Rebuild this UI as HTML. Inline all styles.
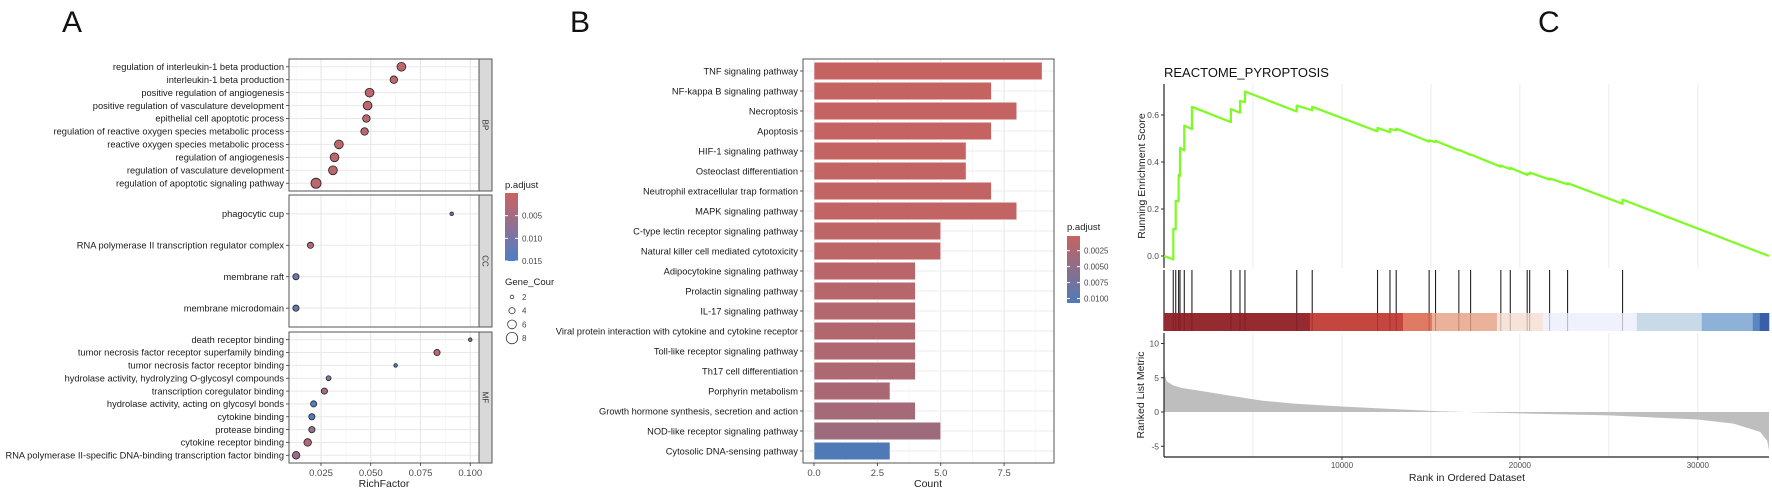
<!DOCTYPE html>
<html><head><meta charset="utf-8">
<style>
html,body{margin:0;padding:0;background:#fff;}
svg{display:block;font-family:"Liberation Sans",Arial,sans-serif;}
</style></head>
<body>
<svg id="chart" width="1772" height="488" viewBox="0 0 1772 488" xmlns="http://www.w3.org/2000/svg"></svg>
<script>
// ---------- Panel A data ----------
const bpTerms=["regulation of interleukin-1 beta production","interleukin-1 beta production","positive regulation of angiogenesis","positive regulation of vasculature development","epithelial cell apoptotic process","regulation of reactive oxygen species metabolic process","reactive oxygen species metabolic process","regulation of angiogenesis","regulation of vasculature development","regulation of apoptotic signaling pathway"];
const bpRich=[0.0654,0.0616,0.0494,0.0484,0.0478,0.0469,0.034,0.0318,0.031,0.0225];
const bpCount=[6,5,6,6,5,5,6,6,6,7];
const bpP=[0.002,0.002,0.002,0.002,0.002,0.002,0.002,0.002,0.002,0.002];
const ccTerms=["phagocytic cup","RNA polymerase II transcription regulator complex","membrane raft","membrane microdomain"];
const ccRich=[0.0907,0.0197,0.0124,0.0124];
const ccCount=[2,4,4,4];
const ccP=[0.013,0.003,0.0115,0.0115];
const mfTerms=["death receptor binding","tumor necrosis factor receptor superfamily binding","tumor necrosis factor receptor binding","hydrolase activity, hydrolyzing O-glycosyl compounds","transcription coregulator binding","hydrolase activity, acting on glycosyl bonds","cytokine binding","protease binding","cytokine receptor binding","RNA polymerase II-specific DNA-binding transcription factor binding"];
const mfRich=[0.1,0.0833,0.0625,0.0288,0.0267,0.0213,0.0204,0.0204,0.0183,0.0125];
const mfCount=[2,4,2,3,4,4,4,4,5,5];
const mfP=[0.009,0.002,0.0155,0.009,0.0045,0.015,0.015,0.0065,0.003,0.006];
const aTicks=[0.025,0.05,0.075,0.1];
const aTickLabels=["0.025","0.050","0.075","0.100"];
const aLegendP=[0.005,0.010,0.015];
const aLegendCounts=[2,4,6,8];
// ---------- Panel B data ----------
const kTerms=["TNF signaling pathway","NF-kappa B signaling pathway","Necroptosis","Apoptosis","HIF-1 signaling pathway","Osteoclast differentiation","Neutrophil extracellular trap formation","MAPK signaling pathway","C-type lectin receptor signaling pathway","Natural killer cell mediated cytotoxicity","Adipocytokine signaling pathway","Prolactin signaling pathway","IL-17 signaling pathway","Viral protein interaction with cytokine and cytokine receptor","Toll-like receptor signaling pathway","Th17 cell differentiation","Porphyrin metabolism","Growth hormone synthesis, secretion and action","NOD-like receptor signaling pathway","Cytosolic DNA-sensing pathway"];
const kCount=[9,7,8,7,6,6,7,8,5,5,4,4,4,4,4,4,3,4,5,3];
const kP=[0.0003,0.0003,0.0004,0.0004,0.0005,0.0006,0.0006,0.0006,0.0009,0.001,0.0013,0.0015,0.0019,0.002,0.0022,0.0024,0.0027,0.003,0.0037,0.0107];
const bTicks=[0,2.5,5,7.5];
const bTickLabels=["0.0","2.5","5.0","7.5"];
const bLegendP=[0.0025,0.005,0.0075,0.01];
const bLegendLabels=["0.0025","0.0050","0.0075","0.0100"];
// ---------- Panel C data ----------
const hitRanks=[520,660,820,900,1140,1570,3760,4270,4550,7460,8330,12000,12700,13050,14900,15260,16570,17230,18930,19460,20410,20550,21670,22680,25770];
const esBefore=[-0.015,0.113,0.233,0.34,0.45,0.54,0.57,0.61,0.655,0.615,0.62,0.53,0.527,0.535,0.487,0.485,0.45,0.43,0.38,0.37,0.345,0.348,0.325,0.305,0.222];
const esAfter=[0.115,0.235,0.345,0.46,0.555,0.635,0.625,0.66,0.70,0.64,0.635,0.545,0.54,0.542,0.492,0.49,0.452,0.432,0.385,0.375,0.35,0.355,0.33,0.31,0.24];
const esEnd=0.0;
const totalRanks=34000;
const metricRanks=[0,60,150,500,1000,1800,3700,5500,7400,10000,13100,15500,17000,20000,25000,30000,32000,33500,33900,34000];
const metricValues=[7.2,5.2,4.5,3.9,3.5,3.2,2.4,1.67,1.2,0.8,0.4,0.1,0,-0.2,-0.5,-1.1,-1.7,-2.9,-4.2,-5.6];
const bandStarts=[0,8200,13430,15060,18710,21290,26570,30220,33090,33480];
const bandColors=["#962a31","#c5453f","#e07a62","#eab29a","#f6e3d9","#eff1fc","#c8d9e7","#8db1d7","#5b87c1","#3b5ea8"];
const esTicks=[0,0.2,0.4,0.6];
const metricTicks=[10,5,0,-5];
const rankTicks=[10000,20000,30000];

const NS="http://www.w3.org/2000/svg";
const svg=document.getElementById('chart');
function mk(tag,attrs,parent){const e=document.createElementNS(NS,tag);for(const k in attrs)e.setAttribute(k,attrs[k]);(parent||svg).appendChild(e);return e;}
function txt(str,attrs,parent){const e=mk('text',attrs,parent);e.textContent=str;return e;}
function lerp(a,b,t){return Math.round(a+(b-a)*t);}
function colA(p){let t=Math.max(0,Math.min(1,p/0.0155));const r=[204,98,95],m=[142,112,150],b=[76,127,198];
 if(t<0.5){t*=2;return `rgb(${lerp(r[0],m[0],t)},${lerp(r[1],m[1],t)},${lerp(r[2],m[2],t)})`;}t=(t-0.5)*2;return `rgb(${lerp(m[0],b[0],t)},${lerp(m[1],b[1],t)},${lerp(m[2],b[2],t)})`;}
function colB(p){const t=Math.max(0,Math.min(1,(p-0.0002)/(0.0107-0.0002)));const r=[198,99,96],b=[79,122,183];return `rgb(${lerp(r[0],b[0],t)},${lerp(r[1],b[1],t)},${lerp(r[2],b[2],t)})`;}

let el;
el=txt("A",{x:62,y:32,'font-size':30,fill:'#111'});
el=txt("B",{x:570,y:32,'font-size':30,fill:'#111'});
el=txt("C",{x:1538,y:32,'font-size':30,fill:'#111'});

// ================= Panel A =================
const gA=mk('g',{});
const AX0=289,AX1=479;
const xA=v=>321+(v-0.025)*1990;
const rA=c=>0.5+0.65*c;
const facets=[{n:'BP',t:59,b:191,terms:bpTerms,rich:bpRich,cnt:bpCount,p:bpP},{n:'CC',t:195,b:327,terms:ccTerms,rich:ccRich,cnt:ccCount,p:ccP},{n:'MF',t:332,b:463,terms:mfTerms,rich:mfRich,cnt:mfCount,p:mfP}];
facets.forEach(f=>{
 const g=mk('g',{},gA);
 mk('rect',{x:AX0,y:f.t,width:AX1-AX0,height:f.b-f.t,fill:'#fff'},g);
 [0.0125,0.0375,0.0625,0.0875].forEach(v=>mk('line',{x1:xA(v),x2:xA(v),y1:f.t,y2:f.b,stroke:'#f2f2f2','stroke-width':0.6},g));
 aTicks.forEach(v=>mk('line',{x1:xA(v),x2:xA(v),y1:f.t,y2:f.b,stroke:'#e6e6e6','stroke-width':1},g));
 const n=f.terms.length,step=(f.b-f.t)/(n-1+1.2);
 f.terms.forEach((term,i)=>{
  const y=f.t+0.6*step+i*step;
  mk('line',{x1:AX0,x2:AX1,y1:y,y2:y,stroke:'#e8e8e8','stroke-width':1},g);
  mk('line',{x1:AX0-3,x2:AX0,y1:y,y2:y,stroke:'#333','stroke-width':0.8},g);
  const lb=txt(term,{x:AX0-5,y:y+3.2,'font-size':9.3,'text-anchor':'end',fill:'#1a1a1a'},g);
  
 });
 f.terms.forEach((term,i)=>{
  const y=f.t+0.6*step+i*step;
  const c=mk('circle',{cx:xA(f.rich[i]),cy:y,r:rA(f.cnt[i]),fill:colA(f.p[i]),stroke:'#222','stroke-width':0.8},g);
  
 });
 mk('rect',{x:AX0,y:f.t,width:AX1-AX0,height:f.b-f.t,fill:'none',stroke:'#555','stroke-width':1},g);
 const st=mk('rect',{x:AX1,y:f.t,width:13,height:f.b-f.t,fill:'#d9d9d9',stroke:'#555','stroke-width':1},g);
 
 const cy=(f.t+f.b)/2;
 const sl=txt(f.n,{x:AX1+6.5,y:cy,'font-size':8,'text-anchor':'middle',fill:'#333',transform:`rotate(90 ${AX1+6.5} ${cy}) translate(0 3)`},g);
 
});
aTicks.forEach((v,i)=>{
 mk('line',{x1:xA(v),x2:xA(v),y1:463,y2:466,stroke:'#333','stroke-width':0.8},gA);
 const t=txt(aTickLabels[i],{x:xA(v),y:476,'font-size':9.5,'text-anchor':'middle',fill:'#4d4d4d'},gA);
 
});
el=txt("RichFactor",{x:384,y:487,'font-size':10.5,'text-anchor':'middle',fill:'#222'},gA);
const lgA=mk('g',{},gA);
txt("p.adjust",{x:505,y:188,'font-size':9.5,fill:'#222'},lgA);
const dA=mk('defs',{});const grA=mk('linearGradient',{id:'ga',x1:0,y1:0,x2:0,y2:1},dA);
[0,0.25,0.5,0.75,1].forEach(s=>mk('stop',{offset:s,'stop-color':colA(s*0.0155)},grA));
el=mk('rect',{x:505,y:193,width:13,height:68,fill:'url(#ga)'},lgA);
aLegendP.forEach((p,i)=>{const y=193+68*p/0.015;mk('line',{x1:505,x2:508,y1:y,y2:y,stroke:'#fff'},lgA);mk('line',{x1:515,x2:518,y1:y,y2:y,stroke:'#fff'},lgA);
 txt(["0.005","0.010","0.015"][i],{x:522,y:y+3,'font-size':8,fill:'#444'},lgA);});
txt("Gene_Cour",{x:505,y:285,'font-size':9.5,fill:'#222'},lgA);
aLegendCounts.forEach((c,i)=>{const y=297+i*13.7;
 const cc=mk('circle',{cx:512,cy:y,r:rA(c),fill:'none',stroke:'#333','stroke-width':0.8},lgA);
 txt(String(c),{x:522,y:y+3,'font-size':8,fill:'#444'},lgA);});

// ================= Panel B =================
const gB=mk('g',{});
const BX0=803,BX1=1054,BT=59,BB=463;
const xB=c=>814+c*25.35;
mk('rect',{x:BX0,y:BT,width:BX1-BX0,height:BB-BT,fill:'#fff'},gB);
[1.25,3.75,6.25,8.75].forEach(v=>mk('line',{x1:xB(v),x2:xB(v),y1:BT,y2:BB,stroke:'#f2f2f2','stroke-width':0.6},gB));
bTicks.forEach(v=>mk('line',{x1:xB(v),x2:xB(v),y1:BT,y2:BB,stroke:'#e6e6e6','stroke-width':1},gB));
const bStep=(BB-BT)/(kTerms.length-1+1.2);
kTerms.forEach((t,i)=>{const y=BT+0.6*bStep+i*bStep;
 mk('line',{x1:BX0,x2:BX1,y1:y,y2:y,stroke:'#ebebeb','stroke-width':1},gB);});
kTerms.forEach((t,i)=>{const y=BT+0.6*bStep+i*bStep,h=0.88*bStep;
 const r=mk('rect',{x:xB(0),y:y-h/2,width:xB(kCount[i])-xB(0),height:h,fill:colB(kP[i]),stroke:'#fff','stroke-width':0.6},gB);
 
 mk('line',{x1:BX0-3,x2:BX0,y1:y,y2:y,stroke:'#333','stroke-width':0.8},gB);
 const lb=txt(t,{x:BX0-5,y:y+3.3,'font-size':9.3,'text-anchor':'end',fill:'#1a1a1a'},gB);
 });
mk('rect',{x:BX0,y:BT,width:BX1-BX0,height:BB-BT,fill:'none',stroke:'#555','stroke-width':1},gB);
bTicks.forEach((v,i)=>{mk('line',{x1:xB(v),x2:xB(v),y1:BB,y2:BB+3,stroke:'#333','stroke-width':0.8},gB);
 const t=txt(bTickLabels[i],{x:xB(v),y:476,'font-size':9.5,'text-anchor':'middle',fill:'#4d4d4d'},gB);
 });
el=txt("Count",{x:928,y:487,'font-size':10.5,'text-anchor':'middle',fill:'#222'},gB);
const lgB=mk('g',{},gB);
txt("p.adjust",{x:1067,y:230,'font-size':9.5,fill:'#222'},lgB);
const grB=mk('linearGradient',{id:'gb',x1:0,y1:0,x2:0,y2:1},dA);
[0,0.5,1].forEach(s=>mk('stop',{offset:s,'stop-color':colB(0.0002+s*0.0105)},grB));
el=mk('rect',{x:1067,y:236,width:13,height:67,fill:'url(#gb)'},lgB);
bLegendP.forEach((p,i)=>{const y=236+67*(p-0.0002)/0.0105;mk('line',{x1:1067,x2:1070,y1:y,y2:y,stroke:'#fff'},lgB);mk('line',{x1:1077,x2:1080,y1:y,y2:y,stroke:'#fff'},lgB);
 txt(bLegendLabels[i],{x:1084,y:y+3,'font-size':8,fill:'#444'},lgB);});

// ================= Panel C =================
const gC=mk('g',{});
const CX0=1164,CX1=1769;
const xC=r=>CX0+r*(CX1-CX0)/totalRanks;
const yES=v=>256-v*235;
const yM=m=>412-m*6.85;
el=txt("REACTOME_PYROPTOSIS",{x:1164,y:77,'font-size':13,fill:'#111'},gC);
[5000,10000,15000,20000,25000,30000].forEach(r=>{
 mk('line',{x1:xC(r),x2:xC(r),y1:84,y2:268,stroke:'#ebebeb','stroke-width':1},gC);
 mk('line',{x1:xC(r),x2:xC(r),y1:333,y2:457,stroke:'#ebebeb','stroke-width':1},gC);});
mk('line',{x1:CX0,x2:CX0,y1:84,y2:268,stroke:'#222','stroke-width':1.2},gC);
esTicks.forEach(v=>{mk('line',{x1:CX0-3,x2:CX0,y1:yES(v),y2:yES(v),stroke:'#333'},gC);
 const t=txt(v.toFixed(1),{x:CX0-5,y:yES(v)+3,'font-size':8.5,'text-anchor':'end',fill:'#4d4d4d'},gC);});
el=txt("Running Enrichment Score",{x:1145,y:176,'font-size':10.5,'text-anchor':'middle',fill:'#222',transform:'rotate(-90 1145 176)'},gC);
let pts=[[0,0]];
hitRanks.forEach((r,i)=>{pts.push([r,esBefore[i]]);pts.push([r,esAfter[i]]);});
pts.push([totalRanks,esEnd]);
el=mk('polyline',{points:pts.map(p=>xC(p[0]).toFixed(1)+','+yES(p[1]).toFixed(1)).join(' '),fill:'none',stroke:'#7cfc20','stroke-width':2.2,'stroke-linejoin':'round'},gC);

mk('line',{x1:CX0,x2:CX0,y1:270,y2:331,stroke:'#222','stroke-width':1.2},gC);
bandStarts.forEach((s,i)=>{const e=i+1<bandStarts.length?bandStarts[i+1]:totalRanks;
 const b=mk('rect',{x:xC(s),y:313,width:xC(e)-xC(s)+0.3,height:18,fill:bandColors[i]},gC);});
hitRanks.forEach(r=>{const h=mk('line',{x1:xC(r),x2:xC(r),y1:270,y2:313,stroke:'#222','stroke-width':1.1},gC);
 mk('line',{x1:xC(r),x2:xC(r),y1:313,y2:331,stroke:'rgba(60,0,0,0.25)','stroke-width':1},gC);});
const mpts=metricRanks.map((r,i)=>xC(r).toFixed(1)+','+yM(metricValues[i]).toFixed(1));
el=mk('polygon',{points:xC(0)+','+yM(0)+' '+mpts.join(' ')+' '+xC(totalRanks)+','+yM(0),fill:'#bebebe'},gC);

mk('line',{x1:CX0,x2:CX0,y1:333,y2:457,stroke:'#222','stroke-width':1.2},gC);
mk('line',{x1:CX0,x2:CX1,y1:457,y2:457,stroke:'#222','stroke-width':1.2},gC);
metricTicks.forEach(v=>{mk('line',{x1:CX0-3,x2:CX0,y1:yM(v),y2:yM(v),stroke:'#333'},gC);
 const t=txt(String(v),{x:CX0-5,y:yM(v)+3,'font-size':8.5,'text-anchor':'end',fill:'#4d4d4d'},gC);});
rankTicks.forEach(r=>{mk('line',{x1:xC(r),x2:xC(r),y1:457,y2:460,stroke:'#333'},gC);
 const t=txt(String(r),{x:xC(r),y:468,'font-size':8,'text-anchor':'middle',fill:'#4d4d4d'},gC);});
el=txt("Ranked List Metric",{x:1144,y:395,'font-size':10.5,'text-anchor':'middle',fill:'#222',transform:'rotate(-90 1144 395)'},gC);
el=txt("Rank in Ordered Dataset",{x:1467,y:481,'font-size':10.5,'text-anchor':'middle',fill:'#222'},gC);
</script>
</body></html>
